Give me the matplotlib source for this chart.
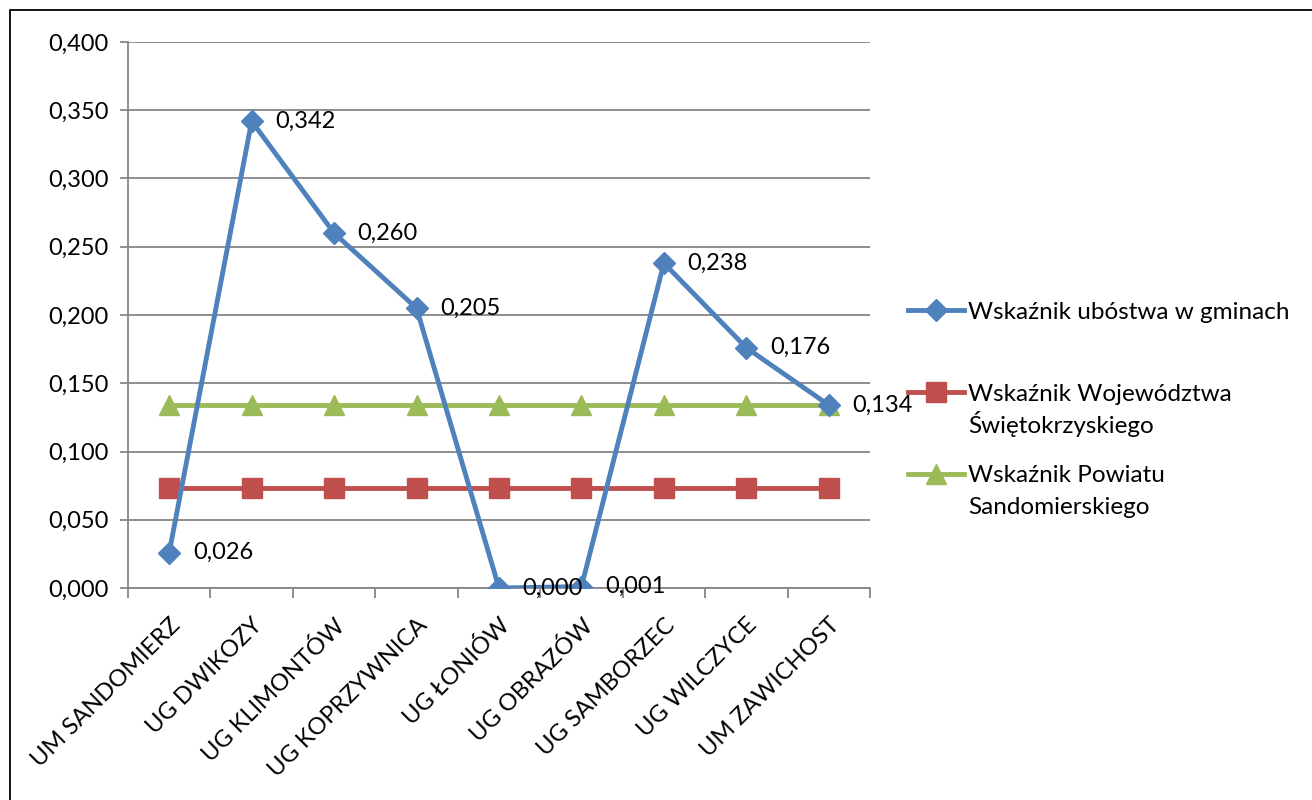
import matplotlib
matplotlib.use("Agg")
import matplotlib.pyplot as plt
from matplotlib.patches import Rectangle
from matplotlib.text import Annotation
import numpy as np

plt.rcParams['font.family'] = ['Lato', 'DejaVu Sans']

# category names and series
gminy = ["UM SANDOMIERZ", "UG DWIKOZY", "UG KLIMONTÓW", "UG KOPRZYWNICA", "UG ŁONIÓW",
         "UG OBRAZÓW", "UG SAMBORZEC", "UG WILCZYCE", "UM ZAWICHOST"]
wskaznik_gmin = [0.026, 0.342, 0.260, 0.205, 0.000, 0.001, 0.238, 0.176, 0.134]
wskaznik_woj = [0.073] * 9
wskaznik_pow = [0.134] * 9
etykiety = ["0,026", "0,342", "0,260", "0,205", "0,000", "0,001", "0,238", "0,176", "0,134"]
yticks = np.arange(0, 0.401, 0.05)

# legend labels: first line goes into the legend, second line is added below it
leg_lines = [("Wskaźnik ubóstwa w gminach", None),
             ("Wskaźnik Województwa", "Świętokrzyskiego"),
             ("Wskaźnik Powiatu", "Sandomierskiego")]

blue = '#4F81BD'
red = '#C0504D'
green = '#9BBB59'
grid = '#868686'
fs = 17
lfs = 17.5

fig = plt.figure(figsize=(13.12, 8), dpi=100)
# outer frame (only left and top visible in the original)
fig.patches.append(Rectangle((10/1312, -0.1), 1.2, 1 - 10/800 + 0.1, transform=fig.transFigure,
                             fill=False, edgecolor='black', linewidth=1.3))

ax = fig.add_axes([128/1312, 1 - 588/800, 742/1312, 546/800])
x = np.arange(len(gminy))

l1, = ax.plot(x, wskaznik_gmin, color=blue, lw=3.5, marker='D', ms=11.5, label=leg_lines[0][0], zorder=5)
l2, = ax.plot(x, wskaznik_woj, color=red, lw=3.5, marker='s', ms=14.5, label=leg_lines[1][0], zorder=3)
l3, = ax.plot(x, wskaznik_pow, color=green, lw=3.5, marker='^', ms=14, label=leg_lines[2][0], zorder=4)

for xi, yi, t in zip(x, wskaznik_gmin, etykiety):
    ax.annotate(t, (xi, yi), xytext=(17, 0), textcoords='offset points',
                va='center', ha='left', fontsize=fs, zorder=6, annotation_clip=False)

ax.set_xlim(-0.5, len(gminy) - 0.5)
ax.set_ylim(0, 0.4)
ax.set_yticks(yticks)
ax.set_yticklabels([f"{v:.3f}".replace('.', ',') for v in yticks], fontsize=fs)
ax.set_xticks(x)
ax.set_xticklabels(gminy, rotation=45, ha='right', rotation_mode='anchor', fontsize=fs)
ax.set_xticks(np.arange(-0.5, len(gminy), 1), minor=True)
ax.tick_params(axis='x', which='major', length=0, pad=19)
ax.tick_params(axis='x', which='minor', length=7, color=grid, width=1.3)
ax.tick_params(axis='y', length=6, color=grid, width=1.3, pad=8)

ax.grid(axis='y', color=grid, lw=1.3)
ax.set_axisbelow(True)
for s in ['top', 'right']:
    ax.spines[s].set_visible(False)
for s in ['left', 'bottom']:
    ax.spines[s].set_color(grid)
    ax.spines[s].set_linewidth(1.3)

leg = fig.legend(handles=[l1, l2, l3], loc='center left', bbox_to_anchor=(898/1312, 1 - 394/800),
                 frameon=False, fontsize=lfs, handlelength=2.3, handletextpad=0.2,
                 labelspacing=2.5, borderaxespad=0)
# second lines of the legend labels, hung under the first line (drawn after the legend)
for txt, (_, second) in zip(leg.get_texts(), leg_lines):
    if second:
        fig.add_artist(Annotation(second, xy=(0, 0), xycoords=txt,
                                  xytext=(0, -32), textcoords='offset pixels',
                                  va='bottom', ha='left', fontsize=lfs, zorder=10))

fig.savefig('out.png', dpi=100)
